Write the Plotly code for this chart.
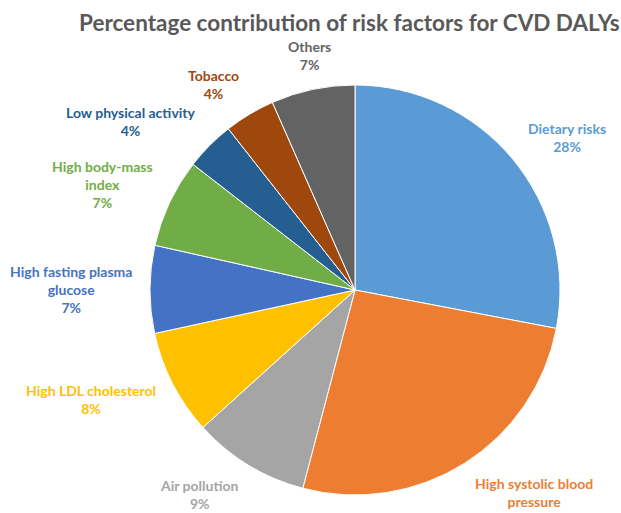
import math
import plotly.graph_objects as go

categories = ["Dietary risks", "High systolic blood pressure", "Air pollution",
              "High LDL cholesterol", "High fasting plasma glucose",
              "High body-mass index", "Low physical activity", "Tobacco", "Others"]
label_text = ["Dietary risks", "High systolic blood<br>pressure", "Air pollution",
              "High LDL cholesterol", "High fasting plasma<br>glucose",
              "High body-mass<br>index", "Low physical activity", "Tobacco", "Others"]
values = [28.0, 26.1, 9.2, 8.3, 6.9, 7.0, 3.9, 4.0, 6.6]
show_pct = [True, False, True, True, True, True, True, True, True]
colors = ["#5B9BD5", "#ED7D31", "#A5A5A5", "#FFC000", "#4472C4",
          "#70AD47", "#255E91", "#9E480E", "#636363"]

W, H = 621, 513
cx, cy, r = 355, 290, 205

fig = go.Figure(go.Pie(
    labels=categories, values=values, sort=False, direction="clockwise",
    rotation=0, marker=dict(colors=colors, line=dict(color="white", width=1)),
    textinfo="none", hoverinfo="label+percent", showlegend=False,
    domain=dict(x=[(cx - r) / W, (cx + r) / W], y=[1 - (cy + r) / H, 1 - (cy - r) / H]),
))

total = sum(values)
cum = 0.0
annotations = []
for lab, v, sp, col in zip(label_text, values, show_pct, colors):
    mid = (cum + v / 2) / total * 2 * math.pi
    cum += v
    s, c = math.sin(mid), math.cos(mid)
    px = cx + 1.08 * r * s
    py = cy - 1.08 * r * c
    text = lab + (f"<br>{round(v / total * 100)}%" if sp else "")
    nlines = text.count("<br>") + 1
    h = nlines * 18
    if s > 0.25:
        xa = "left"
    elif s < -0.25:
        xa = "right"
    else:
        xa = "center"
    yc = py - c * h / 2
    annotations.append(dict(
        x=px / W, y=1 - yc / H, xref="paper", yref="paper", text=text,
        showarrow=False, xanchor=xa, yanchor="middle", align="center",
        font=dict(family="Lato", size=14, color=col, weight="bold"),
    ))

annotations.append(dict(
    x=349 / W, y=1 - 22 / H, xref="paper", yref="paper",
    text="Percentage contribution of risk factors for CVD DALYs",
    showarrow=False, xanchor="center", yanchor="middle",
    font=dict(family="Lato", size=22.5, color="#595959", weight="bold"),
))

fig.update_layout(
    width=W, height=H, margin=dict(l=0, r=0, t=0, b=0),
    paper_bgcolor="white", plot_bgcolor="white",
    annotations=annotations,
)
fig.write_html("out.html")
